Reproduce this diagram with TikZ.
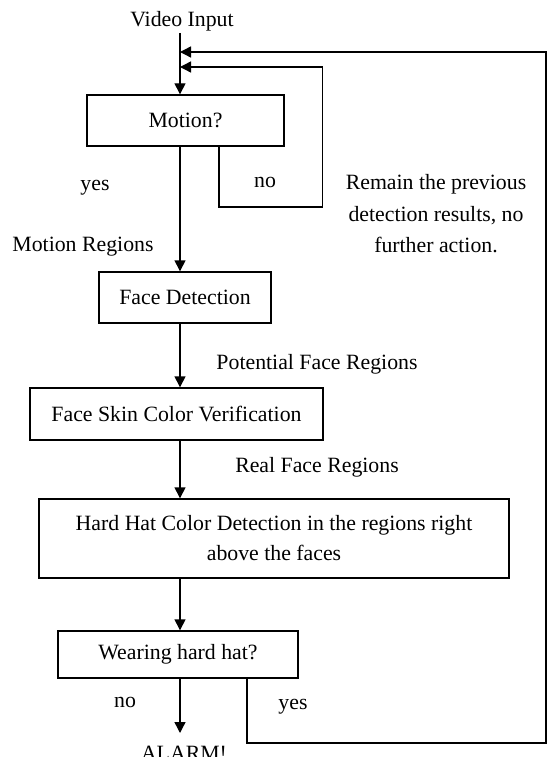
\documentclass[tikz,border=0pt]{standalone}
\usepackage{fontspec}
\setmainfont{Liberation Serif}
\usetikzlibrary{arrows.meta}
\begin{document}
\begin{tikzpicture}[x=1pt,y=-1pt,
  every node/.style={font=\fontsize{21.8}{30}\selectfont, inner sep=0pt},
  box/.style={draw, line width=1.4pt, align=center},
  lbl/.style={anchor=base},
  arr/.style={line width=1.4pt, -{Triangle[length=11pt,width=11pt]}},
  ln/.style={line width=1.4pt}]
\useasboundingbox (0,0) rectangle (547,757);
% boxes
\node[box, minimum width=197, minimum height=51] (motion) at (185.5,120.5) {Motion?};
\node[box, minimum width=172, minimum height=51] (facedet) at (185,297.5) {Face Detection};
\node[box, minimum width=293, minimum height=52] (skin) at (176.5,414) {Face Skin Color Verification};
\node[box, minimum width=470, minimum height=79] (hardhat) at (274,538.5) {Hard Hat Color Detection in the regions right\\above the faces};
\node[box, minimum width=240, minimum height=47] (wear) at (178,654.5) {Wearing hard hat?};
% labels
\node[lbl] (video) at (182,27) {Video Input};
\node[lbl] (nolbl) at (265,187) {no};
\node[lbl] (rem1) at (436,189) {Remain the previous};
\node[lbl] (rem2) at (436,221) {detection results, no};
\node[lbl] (rem3) at (436,252) {further action.};
\node[lbl] (yeslbl) at (95,190) {yes};
\node[lbl] (mreg) at (83,251) {Motion Regions};
\node[lbl] (preg) at (317,369) {Potential Face Regions};
\node[lbl] (rreg) at (317,472) {Real Face Regions};
\node[lbl] (no2) at (125,707) {no};
\node[lbl] (yes2) at (293,709) {yes};
\node[lbl] (alarm) at (184,760) {ALARM!};
% coordinates
\coordinate (vtop) at (180,33);
\coordinate (j1) at (180,52);
\coordinate (j2) at (180,67);
\coordinate (nb) at (219,207);
\coordinate (nr) at (322.7,207);
\coordinate (nt) at (322.7,67);
\coordinate (yb) at (247,743);
\coordinate (rc) at (546,743);
\coordinate (rt) at (546,52);
\coordinate (atip) at (180,733);
% main flow
\draw[arr] (vtop) -- (vtop |- motion.north);
\draw[arr] (vtop |- motion.south) -- (vtop |- facedet.north);
\draw[arr] (vtop |- facedet.south) -- (vtop |- skin.north);
\draw[arr] (vtop |- skin.south) -- (vtop |- hardhat.north);
\draw[arr] (vtop |- hardhat.south) -- (vtop |- wear.north);
\draw[arr] (vtop |- wear.south) -- (atip);
% loops
\draw[arr] (nb |- motion.south) -- (nb) -- (nr) -- (nt) -- (j2);
\draw[arr] (yb |- wear.south) -- (yb) -- (rc) -- (rt) -- (j1);
\end{tikzpicture}
\end{document}
